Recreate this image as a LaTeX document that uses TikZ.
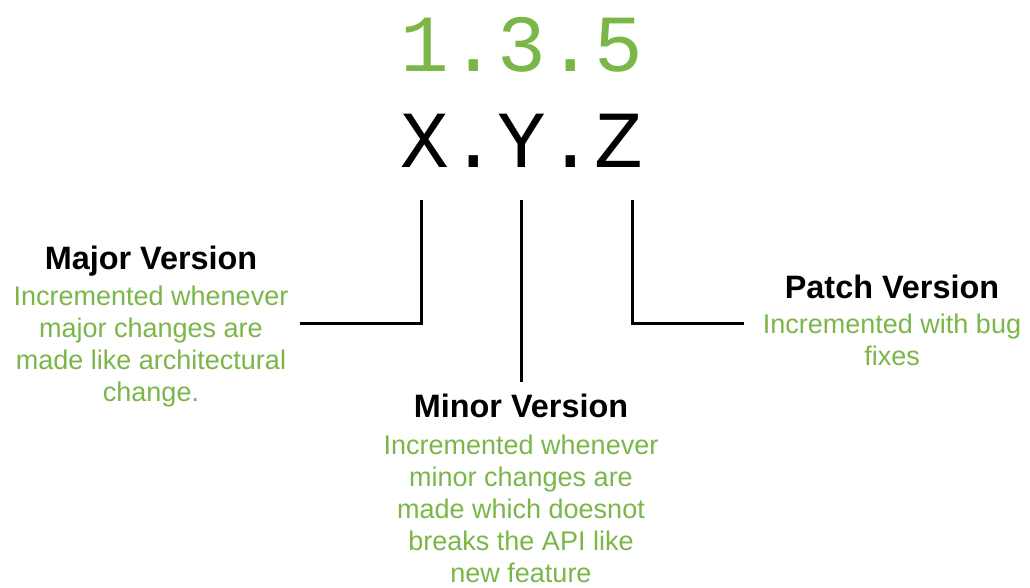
\documentclass[tikz,border=0pt]{standalone}
\usepackage{fontspec}
\setmainfont{Liberation Sans}
\newfontfamily\codefont{Liberation Mono}
\definecolor{leafgreen}{HTML}{7AB648}
\tikzset{
  code/.style={inner sep=0pt, anchor=base, font=\codefont\fontsize{81}{81}\selectfont},
  title/.style={inner sep=0pt, anchor=base, font=\bfseries\fontsize{32.4}{38}\selectfont},
  % multi-line: the base anchor sits on the last line's baseline
  body/.style={inner sep=0pt, anchor=base, align=center, text=leafgreen,
               font=\fontsize{27}{32}\selectfont},
  leader/.style={line width=3pt, black}
}
\begin{document}
\begin{tikzpicture}[x=1pt, y=-1pt]
  \fill[white] (0,0) rectangle (1030,588);
  \useasboundingbox (0,0) rectangle (1030,588);

  % version number and its pattern
  \node[code, text=leafgreen] (num) at (522,72) {1.3.5};
  \node[code] (xyz) at (522,168) {X.Y.Z};

  % the three parts
  \node[title] (majT) at (151,269) {Major Version};
  \node[body]  (majB) at (151,401) {Incremented whenever\\major changes are\\made like architectural\\change.};

  \node[title] (minT) at (521,417) {Minor Version};
  \node[body]  (minB) at (521,582) {Incremented whenever\\minor changes are\\made which doesnot\\breaks the API like\\new feature};

  \node[title] (patT) at (892,298) {Patch Version};
  \node[body]  (patB) at (892,365) {Incremented with bug\\fixes};

  % leader lines from each letter to its description
  \coordinate (xFoot) at (421,200);
  \coordinate (yFoot) at (521,200);
  \coordinate (zFoot) at (632,200);
  \coordinate (majTip) at (300,323);
  \coordinate (minTip) at (521,382);
  \coordinate (patTip) at (744,323);

  \draw[leader] (xFoot) |- (majTip);
  \draw[leader] (yFoot) -- (minTip);
  \draw[leader] (zFoot) |- (patTip);
\end{tikzpicture}
\end{document}
